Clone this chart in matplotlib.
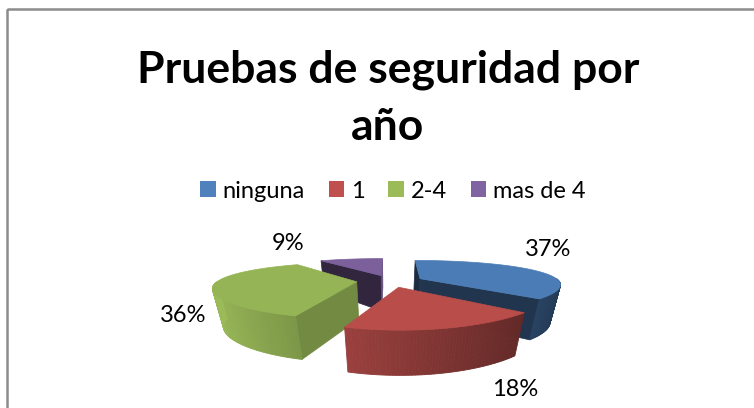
import numpy as np
import matplotlib.pyplot as plt
from matplotlib.patches import Polygon, Patch, Rectangle
from matplotlib.colors import to_rgb

# datos
categorias = ['ninguna', '1', '2-4', 'mas de 4']
valores = [37, 18, 36, 9]
colores = ['#4f81bd', '#c0504d', '#9bbb59', '#8064a2']
titulo = 'Pruebas de seguridad por\naño'

# posiciones de las etiquetas (pixeles)
pos_etiquetas = [(548, 249), (515, 390), (183, 316), (288, 244)]

# geometria del pastel 3D (pixeles)
CX, CY = 390, 281
RX, RY = 139, 25
PX, PY = 5.0, 3.3
H0 = 37
EXPL = 0.24
FUENTE = 'Lato'


def proy(X, Y):
    kx = PX / (PX + Y)
    ky = PY / (PY + Y)
    return CX + RX * X * kx, CY - RY * Y * ky


def abajo(sx, sy, Y):
    h = H0 * (1 - 0.18 * Y)
    return CX + (sx - CX) * (1 - 0.06 * h / H0), sy + h


def tono(c, f):
    return tuple(np.clip(np.array(to_rgb(c)) * f, 0, 1))


fig = plt.figure(figsize=(7.54, 4.08), dpi=100)
ax = fig.add_axes([0, 0, 1, 1])
ax.set_xlim(0, 754)
ax.set_ylim(408, 0)
ax.axis('off')

# marco del grafico
ax.add_patch(Rectangle((7, 9), 800, 500, fill=False, ec='#8c8c8c', lw=1.8))

total = sum(valores)
rebanadas = []
ang = 90.0
for v, c in zip(valores, colores):
    a1 = ang
    a2 = ang - 360.0 * v / total
    ang = a2
    mid = np.radians((a1 + a2) / 2)
    rebanadas.append((a1, a2, EXPL * np.cos(mid), EXPL * np.sin(mid), c))

# de atras hacia adelante
for a1, a2, ox, oy, c in sorted(rebanadas, key=lambda r: -r[3]):
    ts = np.radians(np.linspace(a1, a2, 80))
    Xs = ox + np.cos(ts)
    Ys = oy + np.sin(ts)
    top = [proy(x, y) for x, y in zip(Xs, Ys)]
    apex = proy(ox, oy)
    apex_b = abajo(apex[0], apex[1], oy)

    # caras de corte
    for a, inicio in ((a1, True), (a2, False)):
        ar = np.radians(a)
        if inicio:
            n = (-np.sin(ar), np.cos(ar))
        else:
            n = (np.sin(ar), -np.cos(ar))
        p = (ox + 0.5 * np.cos(ar), oy + 0.5 * np.sin(ar))
        vis = n[0] * (0 - p[0]) + n[1] * (-PY - p[1])
        if vis > 0:
            rx, ry = ox + np.cos(ar), oy + np.sin(ar)
            r_t = proy(rx, ry)
            r_b = abajo(r_t[0], r_t[1], ry)
            col = tono(c, 0.55 + 0.2 * n[0])
            ax.add_patch(Polygon([apex, r_t, r_b, apex_b], closed=True,
                                 fc=col, ec=col, lw=0.5))

    # pared exterior (solo la mitad frontal)
    for k in (-1, 0, 1):
        lo = max(a2, -180 + 360 * k)
        hi = min(a1, 360 * k)
        if hi <= lo:
            continue
        tw = np.radians(np.linspace(hi, lo, 60))
        for t0, t1 in zip(tw[:-1], tw[1:]):
            pts = []
            for t in (t0, t1):
                x, y = ox + np.cos(t), oy + np.sin(t)
                pts.append(proy(x, y))
            bots = [abajo(pts[i][0], pts[i][1], oy + np.sin(t))
                    for i, t in enumerate((t0, t1))]
            f = min(1.0, 0.72 - 0.28 * np.cos((t0 + t1) / 2))
            col = tono(c, f)
            ax.add_patch(Polygon([pts[0], pts[1], bots[1], bots[0]],
                                 closed=True, fc=col, ec=col, lw=0.6))

    # cara superior
    ax.add_patch(Polygon([apex] + top, closed=True, fc=tono(c, 0.96),
                         ec=tono(c, 0.96), lw=0.5))

# etiquetas de porcentaje
for v, (x, y) in zip(valores, pos_etiquetas):
    ax.text(x, y, f'{round(100 * v / total)}%', ha='center', va='center',
            fontsize=17, family=FUENTE, color='black')

# titulo
ax.text(388, 98, titulo, ha='center', va='center', fontsize=32,
        weight='bold', family=FUENTE, linespacing=1.5)

# leyenda
manijas = [Patch(fc=c, ec='none') for c in colores]
ax.legend(manijas, categorias, loc='center', ncol=4, frameon=False,
          bbox_to_anchor=(393 / 754, 1 - 191 / 408),
          prop={'family': FUENTE, 'size': 17},
          handlelength=0.65, handleheight=0.65, handletextpad=0.3,
          columnspacing=1.0, borderaxespad=0)

fig.savefig('out.png', dpi=100)
